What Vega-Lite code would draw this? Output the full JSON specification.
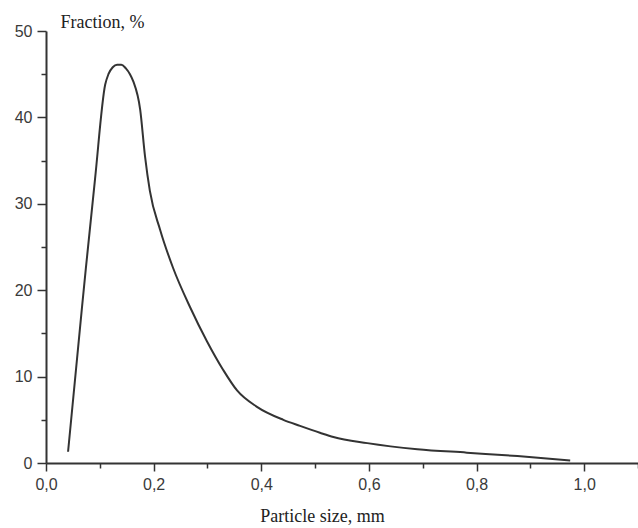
{
  "$schema": "https://vega.github.io/schema/vega-lite/v6.json",
  "width": 592,
  "height": 432,
  "autosize": {"type": "none"},
  "padding": {"left": 46, "top": 31, "right": 0, "bottom": 65},
  "background": "white",
  "config": {"view": {"stroke": null}},
  "data": {"values": [
    {"size": 0.041, "fraction": 1.3},
    {"size": 0.067, "fraction": 18.1},
    {"size": 0.074, "fraction": 22.5},
    {"size": 0.091, "fraction": 32.8},
    {"size": 0.110, "fraction": 43.8},
    {"size": 0.116, "fraction": 45.0},
    {"size": 0.124, "fraction": 45.8},
    {"size": 0.132, "fraction": 46.1},
    {"size": 0.140, "fraction": 46.1},
    {"size": 0.148, "fraction": 45.7},
    {"size": 0.156, "fraction": 45.0},
    {"size": 0.162, "fraction": 44.2},
    {"size": 0.175, "fraction": 40.9},
    {"size": 0.184, "fraction": 35.5},
    {"size": 0.193, "fraction": 31.5},
    {"size": 0.212, "fraction": 27.0},
    {"size": 0.236, "fraction": 22.6},
    {"size": 0.268, "fraction": 18.0},
    {"size": 0.299, "fraction": 14.1},
    {"size": 0.329, "fraction": 10.8},
    {"size": 0.355, "fraction": 8.4},
    {"size": 0.392, "fraction": 6.5},
    {"size": 0.441, "fraction": 5.0},
    {"size": 0.472, "fraction": 4.3},
    {"size": 0.509, "fraction": 3.5},
    {"size": 0.534, "fraction": 3.0},
    {"size": 0.597, "fraction": 2.3},
    {"size": 0.690, "fraction": 1.6},
    {"size": 0.782, "fraction": 1.2},
    {"size": 0.876, "fraction": 0.8},
    {"size": 0.974, "fraction": 0.3}
  ]},
  "mark": {"type": "line", "color": "#333333", "strokeWidth": 2, "interpolate": "monotone", "clip": true},
  "encoding": {
    "x": {
      "field": "size", "type": "quantitative",
      "scale": {"domain": [0, 1.1], "nice": false, "zero": false},
      "axis": {
        "title": "Particle size, mm",
        "titleFont": "Liberation Serif", "titleFontSize": 18, "titleFontWeight": "normal", "titleColor": "#222222",
        "titleX": 276, "titleY": 58, "titleAlign": "center", "titleBaseline": "alphabetic", "titleAnchor": null,
        "values": [0, 0.1, 0.2, 0.3, 0.4, 0.5, 0.6, 0.7, 0.8, 0.9, 1.0, 1.1],
        "labelExpr": "round(datum.value*10) % 2 == 0 && datum.value < 1.05 ? replace(format(datum.value, '.1f'), '.', ',') : ''",
        "labelFont": "Liberation Sans", "labelFontSize": 16, "labelColor": "#3a3a3a", "labelPadding": 5,
        "tickSize": {"condition": {"test": "round(datum.value*10) % 2 == 0", "value": 8}, "value": 5},
        "tickColor": "#333333", "tickWidth": 1.5,
        "domainColor": "#333333", "domainWidth": 2,
        "grid": false, "labelFlush": false, "labelOverlap": false
      }
    },
    "y": {
      "field": "fraction", "type": "quantitative",
      "scale": {"domain": [0, 50], "nice": false},
      "axis": {
        "title": "Fraction, %",
        "titleFont": "Liberation Serif", "titleFontSize": 18, "titleFontWeight": "normal", "titleColor": "#222222",
        "titleAngle": 0, "titleX": 14, "titleY": -4, "titleAlign": "left", "titleBaseline": "alphabetic", "titleAnchor": null,
        "values": [0, 5, 10, 15, 20, 25, 30, 35, 40, 45, 50],
        "labelExpr": "datum.value % 10 == 0 ? format(datum.value, 'd') : ''",
        "labelFont": "Liberation Sans", "labelFontSize": 16, "labelColor": "#3a3a3a", "labelPadding": 5,
        "tickSize": {"condition": {"test": "datum.value % 10 == 0", "value": 9}, "value": 5},
        "tickColor": "#333333", "tickWidth": 1.5,
        "domainColor": "#333333", "domainWidth": 2,
        "grid": false, "labelFlush": false, "labelOverlap": false
      }
    }
  }
}
